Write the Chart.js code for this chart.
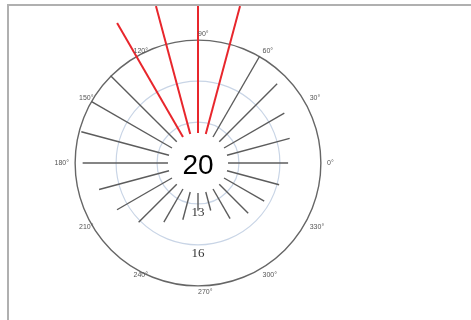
<!DOCTYPE html>
<html>
<head>
<meta charset="utf-8">
<script src="https://cdn.jsdelivr.net/npm/chart.js@4"></script>
<style>
  html, body { margin: 0; padding: 0; background: #fff; overflow: hidden; }
  .frame {
    position: absolute; left: 7px; top: 4px;
    width: 600px; height: 400px;
    border-left: 2px solid #b0b0b0; border-top: 2px solid #b0b0b0;
    overflow: hidden;
  }
  #polar { position: absolute; left: 0; top: 0; }
</style>
</head>
<body>
<div class="frame"><canvas id="polar" width="460" height="314"></canvas></div>
<script>
"use strict";

//////////////////////////////
// Data
const angles = [0, 15, 30, 45, 60, 75, 90, 105, 120, 135, 150, 165,
  180, 195, 210, 225, 240, 255, 270, 285, 300, 315, 330, 345];
const spokeEnds = [16.6, 16.95, 17.3, 18.2, 19.05, 21.9, 21.9, 21.9, 21.85, 19.05, 19.0, 18.85,
  18.45, 17.5, 16.85, 16.15, 15.0, 14.3, 13.5, 13.6, 14.7, 15.2, 15.6, 16.15];
const spokeStart = 12.2;
const threshold = 20;
const baseValue = 10;
const ringValues = [13, 16, 19];
const ringLabels = ["13", "16"];
const angleTicks = [0, 30, 60, 90, 120, 150, 180, 210, 240, 270, 300, 330];
const angleLabels = angleTicks.map((a) => `${a}°`);
const centerValue = "20";

//////////////////////////////
// Helpers
const toXY = function (angle, value) {
  const rad = (angle * Math.PI) / 180;
  const r = value - baseValue;
  return { x: r * Math.cos(rad), y: r * Math.sin(rad) };
};

const datasets = angles.map((a, i) => ({
  data: [toXY(a, spokeStart), toXY(a, spokeEnds[i])],
  showLine: true,
  borderColor: spokeEnds[i] > threshold ? "#e8262c" : "#5c5c5c",
  borderWidth: spokeEnds[i] > threshold ? 2 : 1.4,
  pointRadius: 0,
}));

// rings, ring labels, angle labels and the centre value
const polarDecor = {
  id: "polarDecor",
  beforeDatasetsDraw(chart) {
    const { ctx, scales } = chart;
    const cx = scales.x.getPixelForValue(0);
    const cy = scales.y.getPixelForValue(0);
    ringValues.forEach((v, i) => {
      const r = scales.x.getPixelForValue(v - baseValue) - cx;
      ctx.save();
      ctx.beginPath();
      ctx.arc(cx, cy, r, 0, Math.PI * 2);
      const outer = i === ringValues.length - 1;
      ctx.strokeStyle = outer ? "#666" : "#c9d5e6";
      ctx.lineWidth = outer ? 1.4 : 1.2;
      ctx.stroke();
      ctx.restore();
    });
  },
  afterDatasetsDraw(chart) {
    const { ctx, scales } = chart;
    const cx = scales.x.getPixelForValue(0);
    const cy = scales.y.getPixelForValue(0);
    ctx.save();

    // ring labels
    ctx.fillStyle = "#333";
    ctx.font = "13px 'Liberation Serif', 'DejaVu Serif', serif";
    ctx.textAlign = "center";
    ctx.textBaseline = "alphabetic";
    ringLabels.forEach((t, i) => {
      const y = scales.y.getPixelForValue(-(ringValues[i] - baseValue));
      ctx.fillText(t, cx, y + 12.5);
    });

    // angle labels
    ctx.fillStyle = "#555";
    ctx.font = "7px 'Liberation Sans', 'DejaVu Sans', sans-serif";
    ctx.textBaseline = "middle";
    const labelValue = 19.45;
    angleTicks.forEach((a, i) => {
      const p = toXY(a, labelValue);
      const c = Math.cos((a * Math.PI) / 180);
      ctx.textAlign = c > -0.6 ? "left" : c > -0.95 ? "center" : "right";
      ctx.fillText(angleLabels[i], scales.x.getPixelForValue(p.x), scales.y.getPixelForValue(p.y));
    });

    // centre value
    ctx.fillStyle = "#000";
    ctx.font = "28px 'Liberation Sans', Arial, sans-serif";
    ctx.textAlign = "center";
    ctx.textBaseline = "alphabetic";
    ctx.fillText(centerValue, cx, cy + 10.5);
    ctx.restore();
  },
};

//////////////////////////////
// Chart
const canvas = document.getElementById("polar");
const chart = new Chart(canvas.getContext("2d"), {
  type: "scatter",
  data: { datasets: datasets },
  options: {
    responsive: false,
    animation: false,
    devicePixelRatio: 1,
    layout: { padding: { left: 32, right: 114, top: 0, bottom: 0 } },
    scales: {
      x: { type: "linear", min: -11.5, max: 11.5, display: false },
      y: { type: "linear", min: -11.5, max: 11.5, display: false },
    },
    plugins: {
      legend: { display: false },
      tooltip: { enabled: false },
    },
  },
  plugins: [polarDecor],
});
</script>
</body>
</html>
